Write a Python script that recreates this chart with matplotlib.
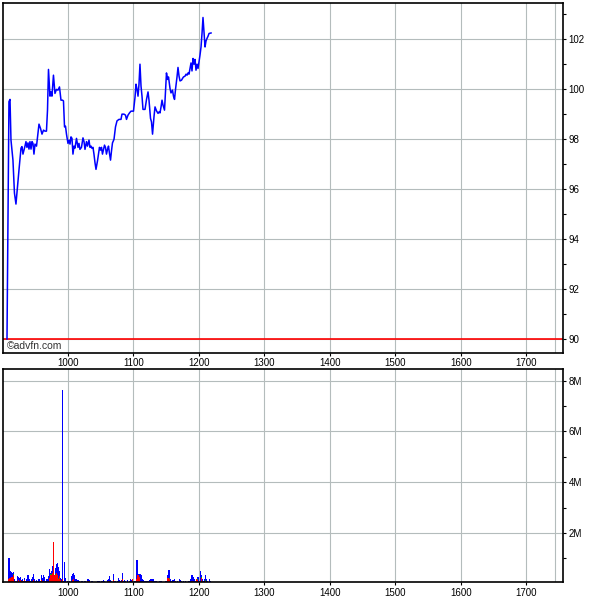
import matplotlib.pyplot as plt
from matplotlib.ticker import MultipleLocator, FuncFormatter

plt.rcParams['font.family'] = ['Liberation Sans', 'DejaVu Sans']
plt.rcParams['font.size'] = 7

# price (day number, price)
day = [906.8, 909.8, 911.4, 912.9, 915.9, 918.2, 920.5, 922.8, 925.1, 928.2,
       929.7, 931.2, 934.3, 935.8, 937.3, 938.9, 940.4, 941.9, 943.5, 945.0,
       946.5, 948.0, 949.6, 951.9, 953.4, 955.7, 958.0, 960.3, 962.6, 964.8,
       967.1, 968.7, 970.2, 972.5, 974.0, 975.5, 977.8, 980.1, 982.4, 984.7,
       987.0, 989.3, 991.6, 993.1, 994.7, 996.2, 997.7, 1000.0, 1001.5, 1003.1,
       1004.6, 1006.1, 1007.6, 1009.2, 1010.7, 1013.0, 1015.3, 1016.8, 1018.3, 1020.6,
       1022.9, 1024.5, 1026.0, 1028.3, 1029.8, 1032.1, 1033.6, 1035.2, 1036.7, 1038.2,
       1039.7, 1041.3, 1042.8, 1045.1, 1046.6, 1048.1, 1049.7, 1051.2, 1052.7, 1054.3,
       1055.8, 1057.3, 1058.8, 1060.4, 1061.9, 1063.4, 1065.0, 1066.5, 1068.0, 1070.3,
       1072.6, 1074.9, 1077.9, 1081.0, 1082.5, 1085.6, 1087.9, 1089.4, 1091.7, 1094.0,
       1096.3, 1100.1, 1102.4, 1103.9, 1105.5, 1107.0, 1108.5, 1110.0, 1111.6, 1113.1,
       1114.6, 1117.7, 1120.0, 1122.3, 1123.8, 1126.1, 1127.6, 1129.2, 1131.5, 1133.0,
       1135.3, 1137.6, 1139.1, 1140.6, 1142.2, 1143.7, 1145.2, 1147.5, 1149.0, 1150.5,
       1152.1, 1153.6, 1155.9, 1157.4, 1159.7, 1161.2, 1162.8, 1164.3, 1166.6, 1168.1,
       1169.7, 1171.2, 1173.5, 1175.0, 1176.5, 1178.8, 1180.4, 1181.9, 1183.4, 1184.9,
       1186.5, 1188.0, 1189.5, 1191.1, 1192.6, 1194.1, 1195.6, 1197.2, 1198.7, 1200.2,
       1201.7, 1203.3, 1204.8, 1206.3, 1207.9, 1209.4, 1210.9, 1212.4, 1214.0, 1215.5,
       1218.6]
price = [90.0, 99.5, 99.59, 97.96, 97.16, 95.84, 95.4, 96.1, 96.76, 97.64,
         97.7, 97.4, 97.72, 97.9, 97.67, 97.85, 97.6, 97.9, 97.6, 97.9,
         97.83, 97.4, 97.8, 97.72, 98.07, 98.6, 98.43, 98.2, 98.36, 98.32,
         98.32, 99.16, 100.79, 99.72, 99.89, 99.72, 100.56, 99.83, 99.99, 99.96,
         100.09, 99.56, 99.56, 99.53, 98.49, 98.52, 98.2, 97.83, 97.96, 97.8,
         98.09, 98.03, 97.4, 97.72, 97.64, 98.03, 97.67, 97.83, 97.59, 97.67,
         98.05, 97.9, 97.59, 97.9, 97.72, 97.96, 97.67, 97.72, 97.63, 97.67,
         97.4, 97.05, 96.79, 97.13, 97.4, 97.67, 97.56, 97.67, 97.4, 97.59,
         97.76, 97.67, 97.4, 97.59, 97.72, 97.43, 97.16, 97.53, 97.85, 97.99,
         98.49, 98.73, 98.79, 98.79, 99.0, 99.0, 98.96, 98.79, 98.96, 99.05,
         99.12, 99.12, 99.67, 100.2, 99.99, 99.72, 100.2, 101.0, 100.12, 99.72,
         99.19, 99.19, 99.59, 99.89, 99.56, 98.83, 98.69, 98.2, 98.92, 99.29,
         99.13, 99.03, 99.09, 99.05, 99.29, 99.56, 99.36, 99.16, 99.89, 100.65,
         100.39, 100.49, 100.03, 99.85, 99.96, 99.72, 99.59, 99.99, 100.49, 100.87,
         100.52, 100.33, 100.36, 100.43, 100.49, 100.52, 100.6, 100.56, 100.65, 100.6,
         100.83, 101.05, 100.73, 101.23, 101.0, 101.19, 100.76, 101.0, 100.83, 101.09,
         101.36, 101.69, 102.23, 102.87, 102.29, 101.69, 101.93, 102.03, 102.12, 102.23,
         102.25]

# volume (thousands): total per day and the red / green parts of it
vol_day = [909.8, 911.4, 912.9, 914.4, 916.4, 918.5, 920.5, 922.5, 924.1, 925.6,
           927.2, 928.7, 930.2, 931.7, 933.3, 934.8, 936.3, 938.9, 940.4, 941.9,
           943.9, 945.4, 947.0, 948.5, 950.0, 952.1, 953.7, 955.7, 957.7, 959.2,
           960.8, 962.3, 964.4, 966.4, 967.9, 969.9, 971.4, 973.0, 974.5, 976.0,
           977.6, 979.1, 980.6, 982.2, 983.7, 985.2, 986.7, 988.3, 989.8, 991.3,
           993.4, 995.0, 996.5, 999.5, 1002.6, 1005.7, 1007.2, 1008.7, 1010.2, 1012.2,
           1013.8, 1015.3, 1016.8, 1021.4, 1026.0, 1027.5, 1030.6, 1032.1, 1036.7, 1042.8,
           1045.9, 1047.4, 1048.9, 1052.0, 1054.0, 1056.1, 1060.1, 1061.6, 1063.1, 1064.7,
           1066.2, 1069.2, 1070.8, 1072.3, 1075.3, 1076.9, 1078.4, 1079.9, 1081.5, 1083.0,
           1084.5, 1086.1, 1087.6, 1090.7, 1093.7, 1095.3, 1096.8, 1098.9, 1102.4, 1104.4,
           1105.5, 1107.0, 1108.5, 1110.0, 1111.6, 1113.1, 1114.6, 1116.2, 1117.7, 1120.7,
           1123.8, 1125.3, 1126.9, 1128.4, 1129.9, 1131.5, 1133.0, 1134.5, 1137.6, 1140.6,
           1142.2, 1145.7, 1148.8, 1150.3, 1152.8, 1154.4, 1155.9, 1159.0, 1160.5, 1162.5,
           1164.0, 1167.1, 1170.1, 1171.7, 1173.2, 1176.2, 1179.3, 1182.3, 1184.9, 1186.5,
           1188.0, 1189.5, 1191.1, 1192.6, 1194.6, 1196.1, 1197.7, 1199.2, 1200.7, 1202.2,
           1203.8, 1205.3, 1206.8, 1208.3, 1210.4, 1212.0, 1213.5, 1216.6, 1218.1]
vol_total = [1013, 513, 460, 421, 460, 197, 118, 316, 263, 224,
             250, 158, 197, 118, 224, 118, 171, 355, 197, 118,
             197, 250, 381, 197, 118, 158, 118, 171, 118, 329,
             224, 355, 250, 92, 197, 289, 592, 421, 487, 684,
             1631, 355, 618, 776, 815, 644, 487, 224, 197, 7650,
             118, 855, 224, 92, 92, 289, 381, 421, 355, 197,
             118, 158, 92, 118, 92, 66, 197, 158, 92, 66,
             92, 92, 66, 92, 158, 92, 158, 197, 289, 158,
             118, 381, 118, 92, 118, 224, 158, 118, 158, 421,
             118, 158, 92, 158, 118, 197, 158, 197, 118, 224,
             947, 381, 355, 381, 355, 197, 158, 92, 92, 92,
             118, 158, 197, 197, 171, 118, 118, 92, 66, 118,
             92, 66, 92, 118, 329, 552, 197, 92, 158, 197,
             118, 92, 197, 158, 118, 118, 92, 66, 92, 118,
             197, 355, 250, 197, 118, 197, 276, 250, 118, 487,
             355, 197, 118, 197, 355, 197, 118, 197, 118]
vol_red = [197, 224, 197, 250, 355, 118, 0, 118, 158, 92,
           132, 92, 118, 0, 158, 0, 0, 118, 0, 0,
           0, 0, 158, 0, 0, 0, 0, 0, 0, 158,
           0, 118, 0, 0, 0, 0, 224, 355, 355, 421,
           1631, 355, 355, 421, 355, 197, 289, 158, 0, 197,
           0, 0, 0, 0, 0, 0, 158, 197, 0, 0,
           0, 0, 0, 0, 0, 0, 118, 0, 0, 0,
           0, 0, 0, 0, 0, 0, 0, 118, 0, 0,
           0, 158, 0, 0, 0, 0, 0, 0, 118, 197,
           0, 0, 0, 0, 0, 0, 0, 197, 0, 0,
           197, 355, 250, 0, 0, 0, 0, 0, 0, 0,
           0, 0, 118, 0, 0, 0, 0, 0, 0, 0,
           0, 0, 0, 0, 224, 197, 0, 0, 0, 118,
           0, 0, 0, 0, 0, 0, 0, 0, 0, 0,
           0, 118, 0, 0, 0, 197, 158, 0, 0, 0,
           224, 118, 0, 0, 118, 0, 0, 0, 0]
vol_green = [0, 0, 0, 0, 40, 0, 0, 0, 0, 0,
             0, 0, 0, 0, 0, 0, 0, 0, 0, 0,
             0, 0, 0, 0, 0, 0, 0, 0, 0, 0,
             0, 0, 0, 0, 0, 0, 0, 40, 30, 0,
             0, 0, 40, 0, 0, 30, 0, 0, 0, 0,
             0, 0, 0, 0, 0, 0, 0, 0, 0, 0,
             0, 0, 0, 0, 0, 0, 0, 0, 0, 0,
             0, 0, 0, 0, 0, 0, 0, 0, 0, 0,
             0, 0, 0, 0, 0, 0, 0, 0, 0, 0,
             0, 0, 0, 0, 0, 0, 0, 0, 0, 0,
             0, 0, 30, 0, 0, 0, 0, 0, 0, 0,
             0, 0, 0, 0, 0, 0, 0, 0, 0, 0,
             0, 0, 0, 0, 0, 40, 0, 0, 0, 0,
             0, 0, 0, 0, 0, 0, 0, 0, 0, 0,
             0, 0, 0, 0, 0, 0, 30, 0, 0, 0,
             30, 0, 0, 0, 30, 0, 0, 0, 0]
vol_blue = [t - r - g for t, r, g in zip(vol_total, vol_red, vol_green)]

grid_col = '#b4bcbc'
xmin, xmax = 900.7, 1756.1

fig = plt.figure(figsize=(6, 6), dpi=100)
ax1 = fig.add_axes([0.005, 0.4122, 0.933, 0.5828])
ax2 = fig.add_axes([0.005, 0.0295, 0.933, 0.355])

# price panel
ax1.axhline(90, color='#ff0000', linewidth=1.2, zorder=2)
ax1.plot(day, price, color='#0000ff', linewidth=1.1, zorder=3)
ax1.set_ylim(89.45, 103.45)
ax1.yaxis.set_major_locator(MultipleLocator(2))
ax1.yaxis.set_minor_locator(MultipleLocator(1))
ax1.text(0.007, 0.006, '©advfn.com', transform=ax1.transAxes,
         fontsize=7.5, color='#333333', ha='left', va='bottom')

# volume panel (stacked red / green / blue)
red_v = [v * 1000 for v in vol_red]
green_v = [v * 1000 for v in vol_green]
blue_v = [v * 1000 for v in vol_blue]
base_blue = [(r + g) * 1000 for r, g in zip(vol_red, vol_green)]
bw = 2.3
ax2.bar(vol_day, blue_v, width=bw, bottom=base_blue, color='#0000ff', linewidth=0, antialiased=False)
ax2.bar(vol_day, green_v, width=bw, bottom=red_v, color='#00b000', linewidth=0, antialiased=False)
ax2.bar(vol_day, red_v, width=bw, color='#ff0000', linewidth=0, antialiased=False)
ax2.set_ylim(0.055e6, 8.45e6)
ax2.yaxis.set_major_locator(MultipleLocator(2e6))
ax2.yaxis.set_minor_locator(MultipleLocator(1e6))
ax2.yaxis.set_major_formatter(FuncFormatter(lambda v, p: '%dM' % round(v / 1e6)))

for ax in (ax1, ax2):
    ax.set_xlim(xmin, xmax)
    ax.xaxis.set_major_locator(MultipleLocator(100))
    ax.grid(True, which='major', color=grid_col, linewidth=0.8)
    ax.axvline(1744.3, color=grid_col, linewidth=0.8, zorder=0.5)
    ax.set_axisbelow(True)
    ax.yaxis.tick_right()
    ax.tick_params(which='both', direction='out', length=2.5, width=0.8, pad=1.5,
                   labelsize=7, colors='black')
    ax.tick_params(which='minor', length=2)
    for s in ax.spines.values():
        s.set_linewidth(1.2)
        s.set_color('black')

fig.savefig('out.png', dpi=100)
